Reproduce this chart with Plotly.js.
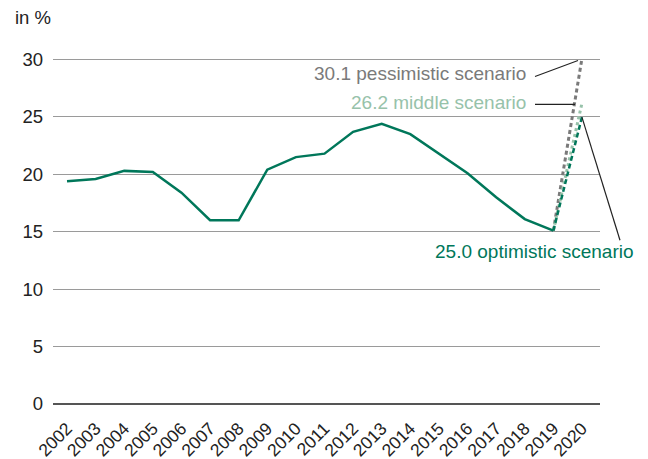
<!DOCTYPE html>
<html><head><meta charset="utf-8">
<script src="https://cdn.plot.ly/plotly-3.0.1.min.js"></script>
<style>html,body{margin:0;padding:0;background:#fff}</style>
</head><body>
<div id="chart" style="width:648px;height:459px"></div>
<script>
const years = [2002,2003,2004,2005,2006,2007,2008,2009,2010,2011,2012,2013,2014,2015,2016,2017,2018,2019];
const values = [19.4,19.6,20.3,20.2,18.4,16.0,16.0,20.4,21.5,21.8,23.7,24.4,23.5,21.8,20.1,18.0,16.1,15.1];
const scenarioYears = [2019,2020];
const pessimistic = [15.1,30.1];
const middle = [15.1,26.2];
const optimistic = [15.1,25.0];
const tickYears = [2002,2003,2004,2005,2006,2007,2008,2009,2010,2011,2012,2013,2014,2015,2016,2017,2018,2019,2020];

const GREEN = '#00775a', LGREEN = '#97c2aa', GRAY = '#7a7a7a';
const font = 'Liberation Sans, Arial, Helvetica, sans-serif';

const traces = [
  {x: scenarioYears, y: pessimistic, mode:'lines', line:{color:GRAY, width:3, dash:'4px,3px'}, hoverinfo:'skip'},
  {x: scenarioYears, y: middle, mode:'lines', line:{color:LGREEN, width:3, dash:'3px,3px'}, hoverinfo:'skip'},
  {x: scenarioYears, y: optimistic, mode:'lines', line:{color:GREEN, width:2.5, dash:'5px,3px'}, hoverinfo:'skip'},
  {x: years, y: values, mode:'lines', line:{color:GREEN, width:2.5}, hoverinfo:'skip'}
];

const L=53, R=600, T=47.5, B=404;
const px = v => (v-L)/(R-L), py = v => (B-v)/(B-T);

const layout = {
  width:648, height:459,
  margin:{l:L, r:648-R, t:T, b:459-B},
  paper_bgcolor:'#fff', plot_bgcolor:'#fff',
  showlegend:false,
  font:{family:font, size:18, color:'#222'},
  xaxis:{range:[2001.51,2020.63], tickvals:tickYears, ticktext:tickYears.map(String),
    tickangle:-45, showgrid:false, zeroline:false, showline:false, ticks:'',
    ticklabelstandoff:10,
    tickfont:{size:17.5, color:'#222'}, fixedrange:true},
  yaxis:{range:[0,31], tickvals:[0,5,10,15,20,25,30], showgrid:true, gridcolor:'#9a9a9a', gridwidth:1,
    zeroline:true, zerolinecolor:'#555', zerolinewidth:2, showline:false, ticks:'',
    ticklabelstandoff:9,
    tickfont:{size:18.5, color:'#222'}, fixedrange:true},
  shapes:[
    {type:'line', xref:'paper', yref:'paper', x0:px(535), y0:py(76), x1:px(578), y1:py(60), line:{color:'#222', width:1.2}},
    {type:'line', xref:'paper', yref:'paper', x0:px(535), y0:py(104), x1:px(575), y1:py(104), line:{color:'#222', width:1.2}},
    {type:'line', xref:'paper', yref:'paper', x0:px(582), y0:py(117), x1:px(620), y1:py(240), line:{color:'#222', width:1.2}}
  ],
  annotations:[
    {text:'in %', xref:'paper', yref:'paper', x:px(13), y:py(17), xanchor:'left', yanchor:'middle', showarrow:false, font:{size:18.5, color:'#222'}},
    {text:'30.1 pessimistic scenario', xref:'paper', yref:'paper', x:px(528), y:py(73), xanchor:'right', yanchor:'middle', showarrow:false, font:{size:19, color:GRAY}},
    {text:'26.2 middle scenario', xref:'paper', yref:'paper', x:px(528), y:py(102), xanchor:'right', yanchor:'middle', showarrow:false, font:{size:19, color:LGREEN}},
    {text:'25.0 optimistic scenario', xref:'paper', yref:'paper', x:px(636), y:py(251), xanchor:'right', yanchor:'middle', showarrow:false, font:{size:19, color:GREEN}}
  ]
};
Plotly.newPlot('chart', traces, layout, {staticPlot:true, displayModeBar:false});
</script>
</body></html>
